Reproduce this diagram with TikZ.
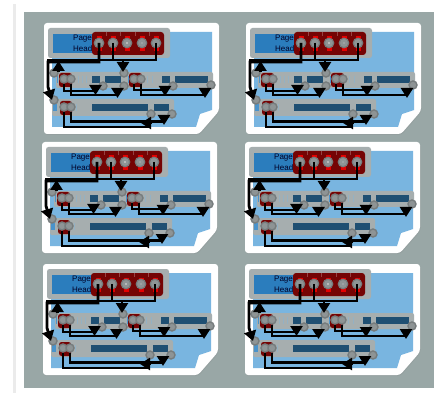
\documentclass[tikz,border=0pt]{standalone}
\usepackage{fontspec}
\setmainfont{Liberation Sans}
\usetikzlibrary{arrows.meta,shadows}
\definecolor{slate}{HTML}{99A7A6}
\definecolor{panel}{HTML}{79B5E0}
\definecolor{banner}{HTML}{2B7DBD}
\definecolor{strip}{HTML}{A6AEAF}
\definecolor{bar}{HTML}{1F4F72}
\definecolor{maroon}{HTML}{750404}
\definecolor{ring}{HTML}{767C7D}
\definecolor{hub}{HTML}{8E9495}
\tikzset{
  bigport/.style={circle,draw=ring,fill=hub,line width=1.2pt,inner sep=0pt,minimum size=9.5pt},
  smallport/.style={circle,draw=ring,fill=hub,line width=1.4pt,inner sep=0pt,minimum size=8pt},
  wire/.style={line width=2.8pt,draw=black},
  head/.style={line width=2.8pt,draw=black,-{Triangle[length=10pt,width=12pt]}},
  striplabel/.style={font=\fontsize{8}{11}\selectfont,align=left,anchor=west,inner sep=0pt,text=black!85!blue}
}
\begin{document}
\begin{tikzpicture}[x=1pt,y=-1pt]
    \useasboundingbox (0,0) rectangle (434,393);
    \fill[black!8] (13,4) rectangle (16,393);
    \fill[white] (16,5) rectangle (434,393);
    \fill[slate] (24,12) rectangle (434,388);
    \foreach \cx/\cy in {0/0,202/0,-2/119,201/119,-1/241,201/241} {
    \begin{scope}[shift={(\cx,\cy)}]
        \fill[white,rounded corners=3pt,drop shadow={opacity=.18,shadow xshift=0.5pt,shadow yshift=-1pt}]
            (44,23) -- (219,23) -- (219,111) -- (199,134) -- (44,134) -- cycle;
        \fill[panel] (52,32) -- (212,32) -- (212,110) -- (200,114) -- (196,127) -- (52,127) -- cycle;
        \fill[strip,rounded corners=2.5pt] (48,28) rectangle (170,58);
        \fill[banner] (53,34) rectangle (93,53);
        \node[striplabel] (title) at (73,43.5) {Page\\Head};
        \fill[maroon,rounded corners=3pt] (92,32) rectangle (164,55);
        \foreach \i/\x in {1/99,2/113,3/127,4/142,5/156} {
            \fill[red!90!black] (\x-2.5,36.5) rectangle (\x+2.5,51);
            \node[bigport] (p\i) at (\x,43) {};
        }
        \foreach \x in {106,120,135,149} \draw[maroon!75!white,line width=.5pt] (\x,32) -- (\x,36);
        \fill[white!75!gray] (p3) circle (.8);
        \fill[white!65!gray] (p4) circle (.6);

        \fill[strip,rounded corners=2pt] (56,72) rectangle (127,88);
        \fill[strip,rounded corners=2pt] (127,72) rectangle (213,88);
        \fill[strip,rounded corners=2pt] (52,99) rectangle (174,116);
        \foreach \xa/\ya/\xb/\yb in {56.5/76/58/83,127.5/76/129/83,53/104/57/111} \fill[banner!60!panel] (\xa,\ya) rectangle (\xb,\yb);
        \foreach \x in {78,82,86,147,152} \draw[panel!40!strip,line width=.5pt] (\x,76) -- (\x,83);
        \draw[panel!40!strip,line width=.5pt] (76,104) -- (76,111);
        \foreach \xa/\xb/\ya/\yb in {59/72/73/87,129/142/73/87,60/72/101/115} \fill[maroon,rounded corners=2.5pt] (\xa,\ya) rectangle (\xb,\yb);
        \foreach \xa/\xb/\ya in {92/100/76,105/121/76,162/170/76,175/208/76,92/148/104,154/169/104} \fill[bar] (\xa,\ya) rectangle (\xb,\ya+7);

        \node[smallport] (top1) at (54,73) {};
        \node[smallport] (top2) at (124,73) {};
        \node[smallport] (top3) at (54,100) {};
        \node[smallport] (a1) at (64,79) {};
        \node[smallport] (a2) at (71,79) {};
        \node[smallport] (a3) at (103,86) {};
        \node[smallport] (a4) at (124,86) {};
        \node[smallport] (b1) at (134,79) {};
        \node[smallport] (b2) at (141,79) {};
        \node[smallport] (b3) at (173,86) {};
        \node[smallport] (b4) at (211,85) {};
        \node[smallport] (c1) at (64,107) {};
        \node[smallport] (c2) at (71,107) {};
        \node[smallport] (c3) at (151,114) {};
        \node[smallport] (c4) at (172,114) {};

        \coordinate (lane1) at (48,62);
        \coordinate (lane2) at (48,87);
        \coordinate (lane3) at (52,100);
        \coordinate (lane4) at (48,60);
        \coordinate (up1) at (58.5,72);
        \coordinate (up2) at (58.5,61);
        \coordinate (lane5) at (123,60);
        \coordinate (lane6) at (123,72);
        \draw[head] (p1.center) |- (lane1) -- (lane2) -- (lane3);
        \draw[wire] (p5.center) |- (lane4) -- (lane2);
        \draw[head] (up1) -- (up2);
        \draw[head] (p2.center) |- (lane5) -- (lane6);

        \foreach \from/\xend/\yend/\tipx/\tipy in {a1/96/91/95.5/95,a2/118/95/117.5/98,b1/165/90/165/96,b2/205/95/205/98,c2/164/121.5/164/125} {
            \coordinate (bend) at (\xend,\yend);
            \coordinate (tip) at (\tipx,\tipy);
            \coordinate (base) at (\tipx,\tipy-10);
            \draw[wire] (\from.south) |- (bend);
            \draw[head] (base) -- (tip);
        }
        \coordinate (bend) at (150,127);
        \coordinate (base) at (152,123);
        \coordinate (tip) at (141,123);
        \draw[wire] (c1.south) |- (bend);
        \draw[head] (base) -- (tip);
    \end{scope}
    }
\end{tikzpicture}
\end{document}
